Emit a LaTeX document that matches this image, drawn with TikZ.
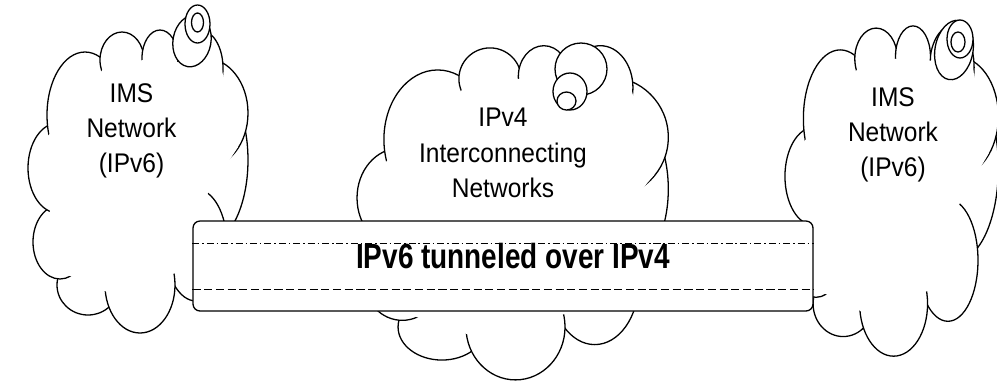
\documentclass[tikz,border=0pt]{standalone}
\usepackage{fontspec}
\setmainfont{Liberation Sans}
\newfontfamily\cloudfont[FakeStretch=0.91]{Liberation Sans}
\newfontfamily\tunnelfont[FakeStretch=0.8]{Liberation Sans}
\usetikzlibrary{calc}

\tikzset{
  lobe/.style={draw, fill=white, line width=1.1pt},
  bubble/.style={draw, fill=white, line width=1.1pt},
  cloudtext/.style={align=center, font=\cloudfont\fontsize{23}{30}\selectfont},
  tunnelbox/.style={draw, fill=white, rounded corners=6pt, line width=1.1pt,
    minimum width=186mm, minimum height=27mm},
  dashdotline/.style={line width=1.1pt, dash pattern=on 6pt off 2.5pt on 1.3pt off 2.5pt},
  dashline/.style={line width=1.1pt, dash pattern=on 7pt off 3pt},
  pics/netcloud/.style={code={
    \foreach \cx/\cy/\rx/\ry in {205/160/43/85, 205/113/43/55, 200/68/23/38, 196/245/31/56,
        88/285/31/30, 140/285/35/48, 60/242/27/37, 58/168/30/45, 85/115/38/63,
        122/60/22/28, 160/58/18/28}
      {\draw[lobe] (\cx,\cy) ellipse [x radius=\rx, y radius=\ry];}
    \fill[white] (47,137) -- (104,68) -- (143,60) -- (180,62) -- (222,70) -- (238,147)
      -- (208,193) -- (176,273) -- (107,292) -- (63,273) -- (50,212) -- cycle;
  }},
}

\begin{document}
\begin{tikzpicture}[x=0.3mm, y=-0.3mm]
\useasboundingbox (0,0) rectangle (997,383);
    % clouds
\pic (imsL) at (0,0) {netcloud};
\pic[xscale=1.415, yscale=1.103] (ipvfour) at (317.4,12.6) {netcloud};
\pic[xscale=0.97, yscale=1.09] (imsR) at (757.8,-6.8) {netcloud};
    % bubbles
\draw[bubble, rotate around={-10:(192,41)}] (192,41) ellipse [x radius=19, y radius=26];
\draw[bubble] (197.5,24) ellipse [x radius=12.5, y radius=19];
\draw[bubble] (197.5,22.5) ellipse [x radius=6, y radius=9.5];
\draw[bubble] (581,69) ellipse [x radius=26, y radius=26];
\draw[bubble] (570,91.5) ellipse [x radius=17, y radius=18.5];
\draw[bubble] (566.5,101) ellipse [x radius=9.5, y radius=9];
\draw[bubble, rotate around={-10:(954,50)}] (954,50) ellipse [x radius=19, y radius=30];
\draw[bubble] (960,39) ellipse [x radius=13, y radius=19];
\draw[bubble] (958,42) ellipse [x radius=7, y radius=10];
    % labels
\node[cloudtext] (imsLtext) at (131.5,131) {IMS\\Network\\(IPv6)};
\node[cloudtext] (ipvfourtext) at (503,153) {IPv4\\Interconnecting\\Networks};
\node[cloudtext] (imsRtext) at (893,135) {IMS\\Network\\(IPv6)};
    % tunnel
\node[tunnelbox] (tunnel) at (503,266) {};
\draw[dashdotline] ($(tunnel.north west)!0.255!(tunnel.south west)$) -- ($(tunnel.north east)!0.255!(tunnel.south east)$);
\draw[dashline] ($(tunnel.north west)!0.756!(tunnel.south west)$) -- ($(tunnel.north east)!0.756!(tunnel.south east)$);
\node[anchor=base, font=\tunnelfont\fontsize{29.8}{32}\selectfont\bfseries] (tunneltext) at (513,268) {IPv6 tunneled over IPv4};
\end{tikzpicture}
\end{document}
